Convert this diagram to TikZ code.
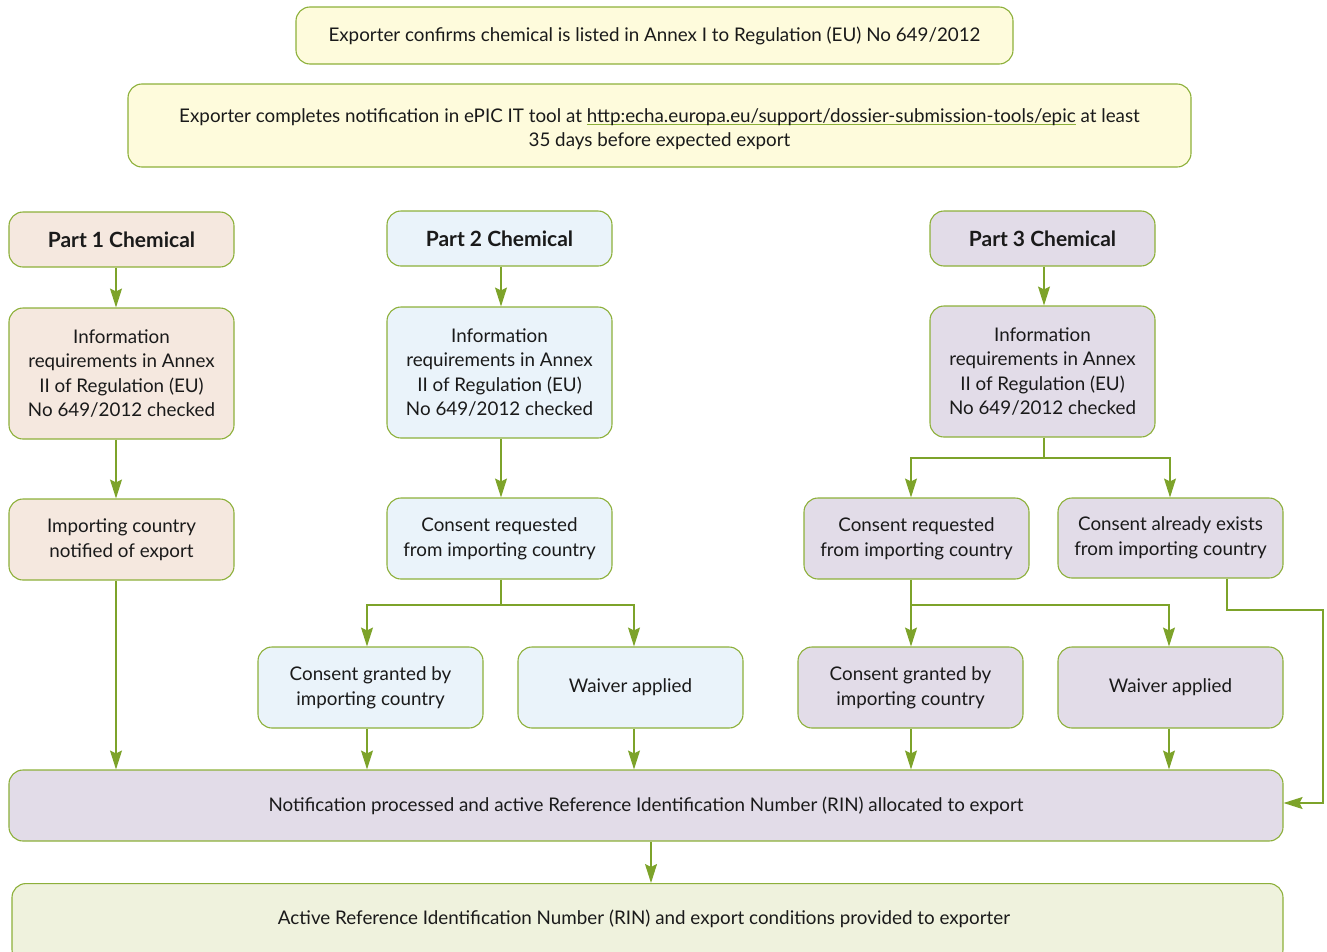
\documentclass[tikz,border=0pt]{standalone}
\usepackage{fontspec}
\setmainfont{Lato}
\usetikzlibrary{arrows.meta}
\definecolor{lgreen}{HTML}{8DB03A}
\definecolor{agreen}{HTML}{7DA32A}
\definecolor{pone}{HTML}{F5E8DF}
\definecolor{ptwo}{HTML}{EAF3FA}
\definecolor{pthree}{HTML}{E2DCE8}
\definecolor{pyellow}{HTML}{FEFBDC}
\definecolor{pfinal}{HTML}{EFF2DD}
\definecolor{txt}{HTML}{1A1A1A}
\newcommand\ulink[1]{\setbox0\hbox{#1}\rlap{\smash{\color{lgreen}\rule[-2.8pt]{\wd0}{0.9pt}}}\copy0\relax}
\begin{document}
\begin{tikzpicture}[x=1bp,y=-1bp,
  box/.style={draw=lgreen, line width=1.1bp, rounded corners=14bp, align=center,
    font=\fontsize{18.8bp}{24.6bp}\selectfont, text=txt, inner sep=0pt},
  hdr/.style={box, font=\fontsize{21bp}{24bp}\selectfont\bfseries},
  conn/.style={draw=agreen, line width=1.2bp},
  arr/.style={conn, -{Stealth[length=19bp,width=12bp,inset=3bp]}},
]
\useasboundingbox (0,0) rectangle (1327,951);
% top
\node[box, fill=pyellow, minimum width=717bp, minimum height=57bp] (t1) at (654.5,35.5)
  {Exporter confirms chemical is listed in Annex I to Regulation (EU) No 649/2012};
\node[box, fill=pyellow, minimum width=1063bp, minimum height=83bp] (t2) at (659.5,125.5)
  {\rule{0pt}{21bp}Exporter completes notification in ePIC IT tool at \ulink{http:echa.europa.eu/support/dossier-submission-tools/epic} at least\\35 days before expected export};
% part 1
\node[hdr, fill=pone, minimum width=225bp, minimum height=55bp] (h1) at (121.5,239.5) {Part 1 Chemical};
\node[box, fill=pone, minimum width=225bp, minimum height=131bp] (i1) at (121.5,373.5)
  {Information\\requirements in Annex\\II of Regulation (EU)\\No 649/2012 checked};
\node[box, fill=pone, minimum width=225bp, minimum height=81bp] (n1) at (121.5,539.5)
  {Importing country\\notified of export};
% part 2
\node[hdr, fill=ptwo, minimum width=225bp, minimum height=55bp] (h2) at (499.5,238.5) {Part 2 Chemical};
\node[box, fill=ptwo, minimum width=225bp, minimum height=131bp] (i2) at (499.5,372.5)
  {Information\\requirements in Annex\\II of Regulation (EU)\\No 649/2012 checked};
\node[box, fill=ptwo, minimum width=225bp, minimum height=81bp] (c2) at (499.5,538.5)
  {Consent requested\\from importing country};
\node[box, fill=ptwo, minimum width=225bp, minimum height=81bp] (g2) at (370.5,687.5)
  {Consent granted by\\importing country};
\node[box, fill=ptwo, minimum width=225bp, minimum height=81bp] (w2) at (630.5,687.5)
  {Waiver applied};
% part 3
\node[hdr, fill=pthree, minimum width=225bp, minimum height=55bp] (h3) at (1042.5,238.5) {Part 3 Chemical};
\node[box, fill=pthree, minimum width=225bp, minimum height=131bp] (i3) at (1042.5,371.5)
  {Information\\requirements in Annex\\II of Regulation (EU)\\No 649/2012 checked};
\node[box, fill=pthree, minimum width=225bp, minimum height=81bp] (c3) at (916.5,538.5)
  {Consent requested\\from importing country};
\node[box, fill=pthree, minimum width=225bp, minimum height=80bp] (e3) at (1170.5,538)
  {Consent already exists\\from importing country};
\node[box, fill=pthree, minimum width=225bp, minimum height=81bp] (g3) at (910.5,687.5)
  {Consent granted by\\importing country};
\node[box, fill=pthree, minimum width=225bp, minimum height=81bp] (w3) at (1170.5,687.5)
  {Waiver applied};
% bottom
\node[box, fill=pthree, minimum width=1274bp, minimum height=71bp] (rin) at (646,805.5)
  {Notification processed and active Reference Identification Number (RIN) allocated to export};
\node[box, fill=pfinal, minimum width=1271bp, minimum height=80bp, anchor=north] (fin) at (647.5,883)
  {};
\node[font=\fontsize{18.8bp}{24.6bp}\selectfont, text=txt] (fint) at (644,918.5)
  {Active Reference Identification Number (RIN) and export conditions provided to exporter};
% connectors part 1
\draw[arr] (h1.south -| 116,0) -- (i1.north -| 116,0);
\draw[arr] (i1.south -| 116,0) -- (n1.north -| 116,0);
\draw[arr] (n1.south -| 116,0) -- (rin.north -| 116,0);
% part 2
\draw[arr] (h2.south -| 501,0) -- (i2.north -| 501,0);
\draw[arr] (i2.south -| 501,0) -- (c2.north -| 501,0);
\coordinate (s2) at (501,605);
\draw[conn] (c2.south -| s2) -- (s2);
\draw[arr] (s2) -| (g2.north -| 367,0);
\draw[arr] (s2) -| (w2.north -| 634,0);
\draw[arr] (g2.south -| 367,0) -- (rin.north -| 367,0);
\draw[arr] (w2.south -| 634,0) -- (rin.north -| 634,0);
% part 3
\draw[arr] (h3.south -| 1044,0) -- (i3.north -| 1044,0);
\coordinate (s3) at (1044,458);
\draw[conn] (i3.south -| s3) -- (s3);
\draw[arr] (s3) -| (c3.north -| 911,0);
\draw[arr] (s3) -| (e3.north -| 1170,0);
\coordinate (s4) at (911,605);
\draw[conn] (c3.south -| s4) -- (s4);
\draw[arr] (s4) -| (g3.north -| 911,0);
\draw[arr] (s4) -| (w3.north -| 1169,0);
\draw[arr] (g3.south -| 911,0) -- (rin.north -| 911,0);
\draw[arr] (w3.south -| 1169,0) -- (rin.north -| 1169,0);
\coordinate (k1) at (1227,610);
\coordinate (k2) at (1323,610);
\coordinate (k3) at (1323,803);
\draw[arr] (e3.south -| k1) -- (k1) -- (k2) -- (k3) -- (rin.east |- k3);
% final
\draw[arr] (rin.south -| 651,0) -- (fin.north -| 651,0);
\end{tikzpicture}
\end{document}
